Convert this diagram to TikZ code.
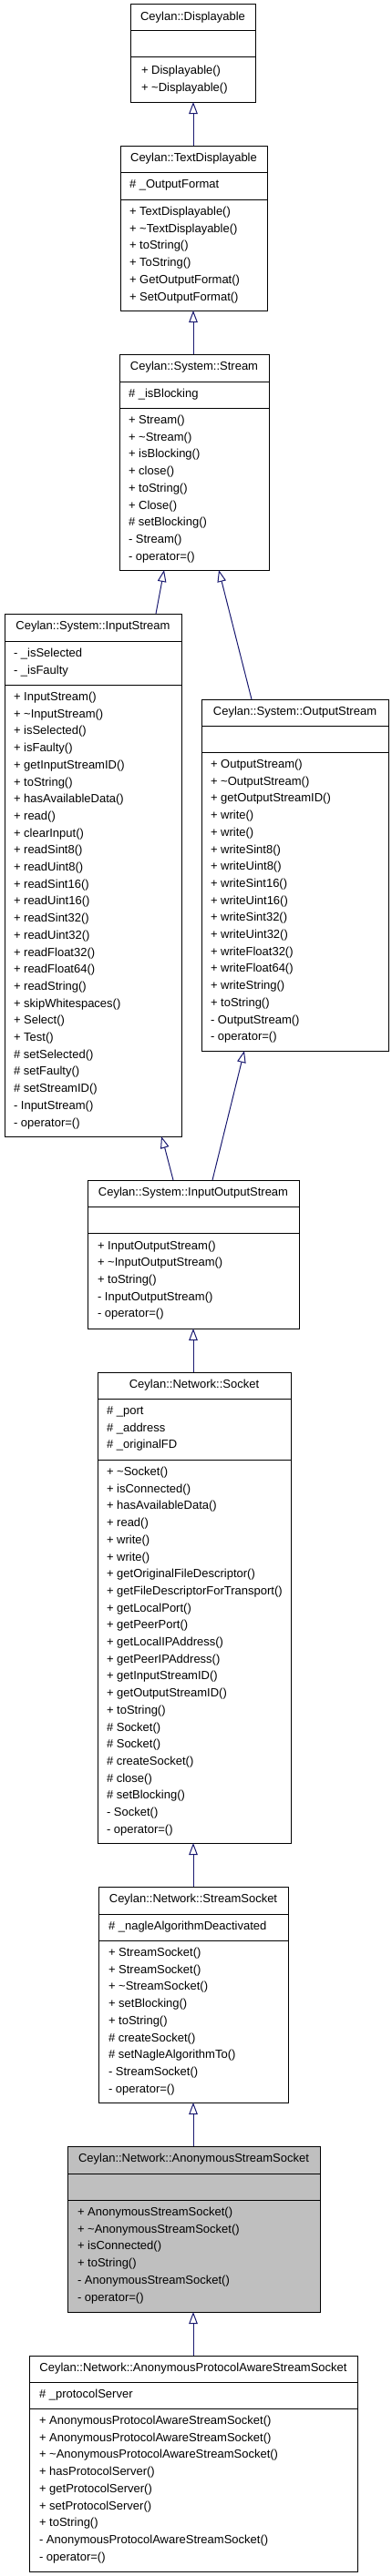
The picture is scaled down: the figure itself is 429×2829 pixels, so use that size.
\documentclass[tikz,border=0pt]{standalone}
\usepackage{fontspec}
\setmainfont{Liberation Sans}
\usetikzlibrary{arrows.meta,calc}
\definecolor{edgeblue}{HTML}{191970}
\definecolor{hlgrey}{HTML}{BFBFBF}
\tikzset{
  classbox/.style={draw=black, line width=1pt, inner sep=0pt, outer sep=0pt},
  sepline/.style={draw=black, line width=1pt},
  txt/.style={inner sep=0pt, outer sep=0pt, font=\fontsize{13}{15}\selectfont, text=black},
  inh/.style={draw=edgeblue, line width=1pt, -{Triangle[open, width=9.5pt, length=13pt]}},
}
% name, x1, x2, ytop, ysep1, ysep2, ybot, fill, title
\newcommand\umlbox[9]{%
  \node[classbox, fill=#8, minimum width={(#3-#2)*1pt}, minimum height={(#7-#4)*1pt}] (#1) at ({(#2+#3)/2},{(#4+#7)/2}) {};
  \draw[sepline] (#2,#5) -- (#3,#5);
  \draw[sepline] (#2,#6) -- (#3,#6);
  \node[txt, anchor=base] (#1-t) at ({(#2+#3)/2},{#4+17.5}) {#9};
}
% name prefix, x, first baseline, list
\newcommand\mlines[4]{%
  \foreach \t [count=\i] in {#4} {
    \node[txt, anchor=base west] (#1\i) at (#2,{#3+(\i-1)*18.7}) {\t};
  }
}
\begin{document}
\begin{tikzpicture}[x=1pt,y=-1pt]
\useasboundingbox (0,0) rectangle (429,2829);

% 1 Displayable
\umlbox{disp}{143}{280}{5}{34}{63}{112}{white}{Ceylan::Displayable}
\mlines{disp-m}{155}{81.5}{{+ Displayable()},{+ \textasciitilde Displayable()}}

% 2 TextDisplayable
\umlbox{tdisp}{132}{293}{160}{189}{219}{341}{white}{Ceylan::TextDisplayable}
\mlines{tdisp-a}{142}{206.5}{{\# \_OutputFormat}}
\mlines{tdisp-m}{142}{236.5}{{+ TextDisplayable()},{+ \textasciitilde TextDisplayable()},{+ toString()},{+ ToString()},{+ GetOutputFormat()},{+ SetOutputFormat()}}

% 3 Stream
\umlbox{stream}{131}{295}{389}{419}{448}{626}{white}{Ceylan::System::Stream}
\mlines{stream-a}{141}{436.5}{{\# \_isBlocking}}
\mlines{stream-m}{141}{465.5}{{+ Stream()},{+ \textasciitilde Stream()},{+ isBlocking()},{+ close()},{+ toString()},{+ Close()},{\# setBlocking()},{- Stream()},{- operator=()}}

% 4 InputStream
\umlbox{istream}{5}{199}{674}{704}{752}{1248}{white}{Ceylan::System::InputStream}
\mlines{istream-a}{15}{721.5}{{- \_isSelected},{- \_isFaulty}}
\mlines{istream-m}{15}{769.5}{{+ InputStream()},{+ \textasciitilde InputStream()},{+ isSelected()},{+ isFaulty()},{+ getInputStreamID()},{+ toString()},{+ hasAvailableData()},{+ read()},{+ clearInput()},{+ readSint8()},{+ readUint8()},{+ readSint16()},{+ readUint16()},{+ readSint32()},{+ readUint32()},{+ readFloat32()},{+ readFloat64()},{+ readString()},{+ skipWhitespaces()},{+ Select()},{+ Test()},{\# setSelected()},{\# setFaulty()},{\# setStreamID()},{- InputStream()},{- operator=()}}

% 5 OutputStream
\umlbox{ostream}{221}{426}{768}{797}{826}{1154}{white}{Ceylan::System::OutputStream}
\mlines{ostream-m}{231}{843.5}{{+ OutputStream()},{+ \textasciitilde OutputStream()},{+ getOutputStreamID()},{+ write()},{+ write()},{+ writeSint8()},{+ writeUint8()},{+ writeSint16()},{+ writeUint16()},{+ writeSint32()},{+ writeUint32()},{+ writeFloat32()},{+ writeFloat64()},{+ writeString()},{+ toString()},{- OutputStream()},{- operator=()}}

% 6 InputOutputStream
\umlbox{iostream}{96}{328}{1296}{1325}{1354}{1459}{white}{Ceylan::System::InputOutputStream}
\mlines{iostream-m}{107}{1372}{{+ InputOutputStream()},{+ \textasciitilde InputOutputStream()},{+ toString()},{- InputOutputStream()},{- operator=()}}

% 7 Socket
\umlbox{socket}{107}{319}{1507}{1536}{1603}{2024}{white}{Ceylan::Network::Socket}
\mlines{socket-a}{117}{1553.5}{{\# \_port},{\# \_address},{\# \_originalFD}}
\mlines{socket-m}{117}{1620.5}{{+ \textasciitilde Socket()},{+ isConnected()},{+ hasAvailableData()},{+ read()},{+ write()},{+ write()},{+ getOriginalFileDescriptor()},{+ getFileDescriptorForTransport()},{+ getLocalPort()},{+ getPeerPort()},{+ getLocalIPAddress()},{+ getPeerIPAddress()},{+ getInputStreamID()},{+ getOutputStreamID()},{+ toString()},{\# Socket()},{\# Socket()},{\# createSocket()},{\# close()},{\# setBlocking()},{- Socket()},{- operator=()}}

% 8 StreamSocket
\umlbox{ssock}{108}{316}{2072}{2102}{2131}{2309}{white}{Ceylan::Network::StreamSocket}
\mlines{ssock-a}{119}{2119.5}{{\# \_nagleAlgorithmDeactivated}}
\mlines{ssock-m}{119}{2148.5}{{+ StreamSocket()},{+ StreamSocket()},{+ \textasciitilde StreamSocket()},{+ setBlocking()},{+ toString()},{\# createSocket()},{\# setNagleAlgorithmTo()},{- StreamSocket()},{- operator=()}}

% 9 AnonymousStreamSocket
\umlbox{asock}{74}{351}{2357}{2387}{2416}{2539}{hlgrey}{Ceylan::Network::AnonymousStreamSocket}
\mlines{asock-m}{85}{2433.5}{{+ AnonymousStreamSocket()},{+ \textasciitilde AnonymousStreamSocket()},{+ isConnected()},{+ toString()},{- AnonymousStreamSocket()},{- operator=()}}

% 10 AnonymousProtocolAwareStreamSocket
\umlbox{apsock}{32}{392}{2587}{2616}{2645}{2824}{white}{Ceylan::Network::AnonymousProtocolAwareStreamSocket}
\mlines{apsock-a}{43}{2633.5}{{\# \_protocolServer}}
\mlines{apsock-m}{43}{2662.5}{{+ AnonymousProtocolAwareStreamSocket()},{+ AnonymousProtocolAwareStreamSocket()},{+ \textasciitilde AnonymousProtocolAwareStreamSocket()},{+ hasProtocolServer()},{+ getProtocolServer()},{+ setProtocolServer()},{+ toString()},{- AnonymousProtocolAwareStreamSocket()},{- operator=()}}

% inheritance connectors
\draw[inh] ([xshift=80pt]tdisp.north west) -- ([xshift=69pt]disp.south west);
\draw[inh] ([xshift=81pt]stream.north west) -- ([xshift=80pt]tdisp.south west);
\draw[inh] ([xshift=166pt]istream.north west) -- ([xshift=49pt]stream.south west);
\draw[inh] ([xshift=55pt]ostream.north west) -- ([xshift=109pt]stream.south west);
\draw[inh] ([xshift=94pt]iostream.north west) .. controls ([xshift=90pt,yshift=18pt]iostream.north west) .. ([xshift=172pt]istream.south west);
\draw[inh] ([xshift=137pt]iostream.north west) -- ([xshift=47pt]ostream.south west);
\draw[inh] ([xshift=105pt]socket.north west) -- ([xshift=116pt]iostream.south west);
\draw[inh] ([xshift=104pt]ssock.north west) -- ([xshift=105pt]socket.south west);
\draw[inh] ([xshift=138pt]asock.north west) -- ([xshift=104pt]ssock.south west);
\draw[inh] ([xshift=180pt]apsock.north west) -- ([xshift=138pt]asock.south west);
\end{tikzpicture}
\end{document}
